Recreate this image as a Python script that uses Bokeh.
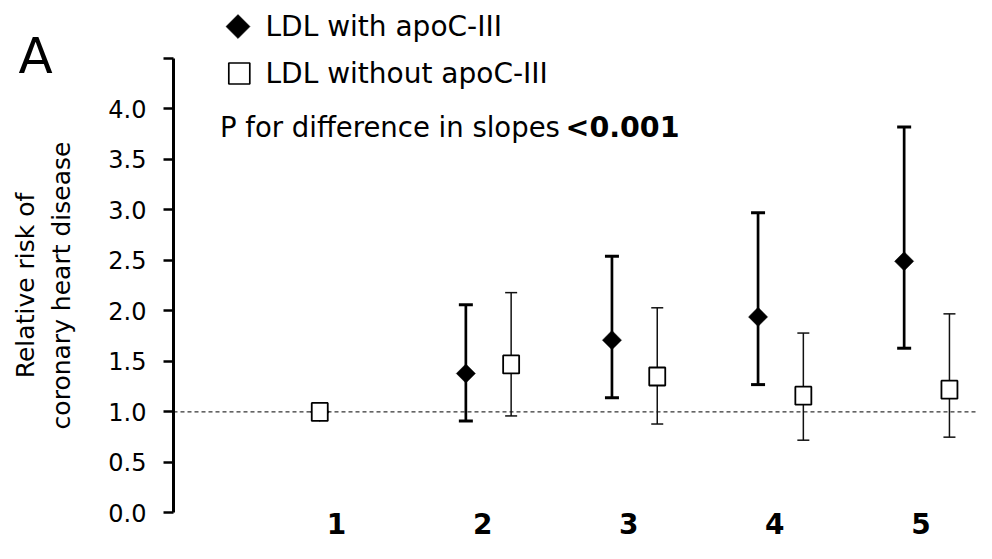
import numpy as np
from bokeh.plotting import figure
from bokeh.models import Range1d, FixedTicker, CustomJSTickFormatter, Label
from bokeh.embed import file_html
from bokeh.resources import INLINE

# ---------------- data ----------------
quintiles = [1, 2, 3, 4, 5]
quintile_labels = ["1", "2", "3", "4", "5"]

with_rr = [1.00, 1.38, 1.71, 1.94, 2.49]
with_lo = [1.00, 0.91, 1.14, 1.27, 1.63]
with_hi = [1.00, 2.06, 2.54, 2.97, 3.82]

without_rr = [1.00, 1.47, 1.35, 1.16, 1.22]
without_lo = [1.00, 0.96, 0.88, 0.72, 0.75]
without_hi = [1.00, 2.18, 2.03, 1.78, 1.97]

y_ticks = [0.0, 0.5, 1.0, 1.5, 2.0, 2.5, 3.0, 3.5, 4.0, 4.5]
reference_rr = 1.0

series_names = ["LDL with apoC-III", "LDL without apoC-III"]
p_text = "P for difference in slopes "
p_value = "<0.001"
panel_letter = "A"
y_label = "Relative risk of\ncoronary heart disease"

# ---------------- layout ----------------
W, H = 976, 543
XA, XB = 195.8, 146.1            # pixel = XA + XB * quintile
K = 0.9836                       # slight vertical squeeze to fit the window
Y_ZERO_PX = 521 * K
PXY = 102.75 * K                 # pixels per RR unit
X0, X1 = -XA / XB, (W - XA) / XB
Y1 = Y_ZERO_PX / PXY
Y0 = -(H - Y_ZERO_PX) / PXY
DODGE = 0.155
LABEL_SHIFT = 0.04
FONT = "DejaVu Sans"


def px_x(px):
    return (px - XA) / XB


def px_y(py):
    return Y1 - (py * K) / PXY


X_AXIS = px_x(173)

q = np.array(quintiles, dtype=float)
x_with = q - DODGE
# the reference quintile is a single shared point
x_without = np.where(q == 1, q - DODGE, q + DODGE)

p = figure(width=W, height=H, output_backend="svg", toolbar_location=None,
           x_range=Range1d(X0, X1), y_range=Range1d(Y0, Y1),
           min_border_left=0, min_border_right=0, min_border_top=0,
           min_border_bottom=0)
p.outline_line_color = None
p.xgrid.visible = False
p.ygrid.visible = False
p.background_fill_color = "white"
p.border_fill_color = "white"

# y axis
yax = p.yaxis[0]
yax.fixed_location = X_AXIS
yax.ticker = FixedTicker(ticks=y_ticks)
yax.formatter = CustomJSTickFormatter(code="return tick > 4.4 ? '' : tick.toFixed(1);")
yax.bounds = (y_ticks[0], y_ticks[-1])
yax.axis_line_width = 3
yax.axis_line_color = "black"
yax.major_tick_line_width = 2.5
yax.major_tick_out = 10
yax.major_tick_in = 0
yax.minor_tick_line_color = None
yax.major_label_text_font = FONT
yax.major_label_text_font_size = "24px"
yax.major_label_text_color = "black"
yax.major_label_standoff = 17
yax.axis_label = y_label
yax.axis_label_text_font = FONT
yax.axis_label_text_font_size = "25px"
yax.axis_label_text_font_style = "normal"
yax.axis_label_text_color = "black"
yax.axis_label_text_line_height = 1.25
yax.axis_label_standoff = 29

# x axis
xax = p.xaxis[0]
xax.fixed_location = 0
xax.ticker = FixedTicker(ticks=[v - LABEL_SHIFT for v in quintiles])
xax.formatter = CustomJSTickFormatter(args=dict(labels=quintile_labels),
                                      code="return labels[Math.round(tick) - 1];")
xax.axis_line_color = None
xax.major_tick_line_color = None
xax.minor_tick_line_color = None
xax.major_label_text_font = FONT
xax.major_label_text_font_size = "28px"
xax.major_label_text_font_style = "bold"
xax.major_label_text_color = "black"
xax.major_label_standoff = -6

# reference line (from the axis to the right edge)
p.ray(x=[X_AXIS], y=[reference_rr], length=0, angle=0, line_color="black",
      line_width=1, line_dash="4 3")

# error bars
p.segment(x_without, without_lo, x_without, without_hi, line_color="#111111", line_width=1.5)
p.scatter(np.concatenate([x_without, x_without]), without_lo + without_hi, marker="dash",
          size=12, line_color="#111111", line_width=1.5)
p.segment(x_with, with_lo, x_with, with_hi, line_color="black", line_width=2.7)
p.scatter(np.concatenate([x_with, x_with]), with_lo + with_hi, marker="dash",
          size=14, line_color="black", line_width=3)

# markers
p.scatter(x_with, with_rr, marker="square", angle=np.pi / 4, size=13.5,
          fill_color="black", line_color="black", line_width=0.5)
p.rect(x_without, without_rr, width=16, height=18, width_units="screen",
       height_units="screen", fill_color="white", line_color="black", line_width=1.8)

# legend (drawn by hand, as in the original)
p.scatter([px_x(237.5)], [px_y(26.5)], marker="square", angle=np.pi / 4, size=17,
          fill_color="black", line_color="black", line_width=0.5)
p.rect([px_x(238.8)], [px_y(74.2)], width=21, height=21, width_units="screen",
       height_units="screen", fill_color="white", line_color="black", line_width=1.7)


def add_text(text, left, mid, size, style="normal"):
    p.add_layout(Label(x=px_x(left), y=px_y(mid), text=text, text_font=FONT,
                       text_font_size=size, text_font_style=style, text_align="left",
                       text_baseline="middle", text_color="black"))


add_text(series_names[0], 265, 26, "28px")
add_text(series_names[1], 265, 74, "28px")
add_text(p_text, 219.4, 129, "27.5px")
add_text(p_value, 565, 129, "28.5px", "bold")
add_text(panel_letter, 18, 56.5, "50px")

open("out.html", "w").write(file_html(p, INLINE))
